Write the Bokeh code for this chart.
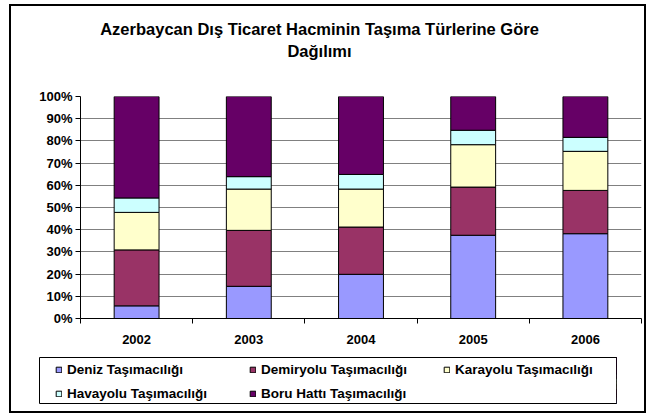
from bokeh.plotting import figure
from bokeh.layouts import column
from bokeh.models import (FixedTicker, PrintfTickFormatter, Legend, LegendItem,
                          Label, Range1d, ColumnDataSource)
from bokeh.embed import file_html
from bokeh.resources import INLINE

# ---- data ----
years = ["2002", "2003", "2004", "2005", "2006"]
deniz = [5.7, 14.5, 19.9, 37.5, 38.2]
demiryolu = [25.2, 25.2, 21.3, 21.7, 19.5]
karayolu = [16.9, 18.6, 17.1, 19.1, 17.6]
havayolu = [6.5, 5.6, 6.6, 6.5, 6.3]
boru = [45.7, 36.1, 35.1, 15.2, 18.4]
series_names = ["Deniz Taşımacılığı", "Demiryolu Taşımacılığı",
                "Karayolu Taşımacılığı", "Havayolu Taşımacılığı",
                "Boru Hattı Taşımacılığı"]
y_ticks = [0, 10, 20, 30, 40, 50, 60, 70, 80, 90, 100]
title_text = "Azerbaycan Dış Ticaret Hacminin Taşıma Türlerine Göre\nDağılımı"

colors = ["#9999FF", "#993366", "#FFFFCC", "#CCFFFF", "#660066"]
FONT = "Liberation Sans"
W = 633

keys = ["deniz", "demiryolu", "karayolu", "havayolu", "boru"]
source = ColumnDataSource(dict(
    x=[i + 0.5 for i in range(len(years))],
    deniz=deniz, demiryolu=demiryolu, karayolu=karayolu,
    havayolu=havayolu, boru=boru,
))


def blank_fig(height, x_range, y_range, **kw):
    return figure(width=W, height=height, output_backend="svg",
                  toolbar_location=None, x_axis_type=None, y_axis_type=None,
                  x_range=x_range, y_range=y_range, frame_align=False,
                  background_fill_color="white", border_fill_color="white", **kw)


# ---- title strip ----
tf = blank_fig(60, Range1d(0, 1), Range1d(0, 1), min_border_left=0,
               min_border_right=0, min_border_top=0, min_border_bottom=0,
               outline_line_color=None)
tf.add_layout(Label(x=308, y=47, x_units="screen", y_units="screen",
                    text=title_text, text_align="center", text_baseline="top",
                    text_font=FONT, text_font_style="bold",
                    text_font_size="16.5px", text_color="black",
                    text_line_height=1.25))

# ---- main chart ----
p = figure(width=W, height=284, output_backend="svg", toolbar_location=None,
           x_range=Range1d(0, len(years)), y_range=Range1d(0, 100),
           min_border_left=69, min_border_right=3, min_border_top=30,
           min_border_bottom=32, outline_line_color=None, frame_align=False,
           background_fill_color="white", border_fill_color="white")

p.vbar_stack(keys, x="x", width=0.4, color=colors,
             line_color="black", line_width=1, source=source)

xa = p.xaxis[0]
xa.ticker = FixedTicker(ticks=[i + 0.5 for i in range(len(years))],
                        minor_ticks=list(range(len(years) + 1)))
xa.major_label_overrides = {i + 0.5: y for i, y in enumerate(years)}
xa.major_tick_line_color = None
xa.minor_tick_in = 0
xa.minor_tick_out = 5
xa.minor_tick_line_color = "black"
xa.axis_line_color = "black"
xa.major_label_standoff = 10
xa.major_label_text_font = FONT
xa.major_label_text_font_style = "bold"
xa.major_label_text_font_size = "13px"
xa.major_label_text_color = "black"

ya = p.yaxis[0]
ya.ticker = FixedTicker(ticks=y_ticks)
ya.formatter = PrintfTickFormatter(format="%d%%")
ya.major_tick_in = 0
ya.major_tick_out = 5
ya.major_tick_line_color = "black"
ya.minor_tick_line_color = None
ya.axis_line_color = "black"
ya.major_label_standoff = 3
ya.major_label_text_font = FONT
ya.major_label_text_font_style = "bold"
ya.major_label_text_font_size = "13px"
ya.major_label_text_color = "black"

p.xgrid.grid_line_color = None
p.ygrid.grid_line_color = "#808080"
p.ygrid.grid_line_width = 1

# ---- legend strip (its frame is the legend box) ----
# the same stacked bars are drawn here outside the visible x range,
# so only their legend swatches show
q = blank_fig(61, Range1d(-2 * len(years), -len(years)), Range1d(0, 100),
              min_border_left=28, min_border_right=28, min_border_top=7,
              min_border_bottom=8, outline_line_color="black",
              outline_line_width=1)
swatches = q.vbar_stack(keys, x="x", width=0.4, color=colors,
                        line_color="black", line_width=1, source=source)
items = [LegendItem(label=n, renderers=[r]) for n, r in zip(series_names, swatches)]
legend = Legend(items=items, ncols=3, orientation="horizontal",
                location=(16, 2), glyph_width=7, glyph_height=7,
                label_standoff=5, label_width=174, label_height=16, spacing=8,
                padding=0, margin=0, border_line_color=None,
                background_fill_alpha=0,
                label_text_font=FONT, label_text_font_style="bold",
                label_text_font_size="13.5px", label_text_color="black")
q.add_layout(legend, "center")

layout = column(tf, p, q, spacing=0,
                styles={"border": "2px solid black", "margin-left": "9px",
                        "margin-top": "4px"})

open("out.html", "w").write(file_html(layout, INLINE))
